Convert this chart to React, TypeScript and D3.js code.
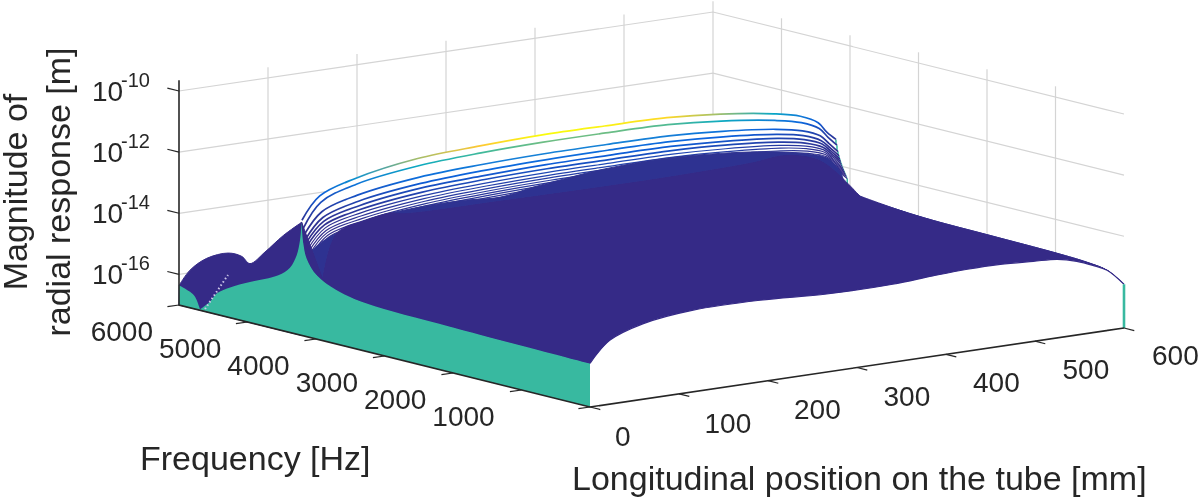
import React from 'react';
import * as d3 from 'd3';

// tick values
const xTicks = [0, 100, 200, 300, 400, 500, 600];
const freqTicks = [6000, 5000, 4000, 3000, 2000, 1000, 0];
const zTicks = [-10, -12, -14, -16];
const freqTickLabels = ['6000', '5000', '4000', '3000', '2000', '1000'];
const xTickLabels = ['0', '100', '200', '300', '400', '500', '600'];

// resolved response curves near the resonance, log10 magnitude
const stackX = [0, 20, 60, 130, 200, 270, 340, 410, 470, 530, 560, 580, 590, 600];
const stackFreq = [4205, 4190, 4175, 4160, 4148, 4136, 4124, 4112, 4100, 4088, 4076, 4064, 4052, 4040];
const stackZ = [
  [-13.23, -12.52, -12.12, -11.77, -11.66, -11.6, -11.61, -11.64, -11.78, -12.03, -12.24, -12.54, -12.9, -13.17],
  [-13.5, -12.72, -12.3, -12.0, -11.88, -11.83, -11.83, -11.86, -12.0, -12.24, -12.44, -12.72, -13.05, -13.35],
  [-13.7, -13.02, -12.65, -12.36, -12.25, -12.2, -12.2, -12.22, -12.33, -12.52, -12.7, -12.95, -13.25, -13.55],
  [-13.85, -13.2, -12.84, -12.56, -12.44, -12.39, -12.38, -12.4, -12.5, -12.68, -12.85, -13.1, -13.38, -13.68],
  [-13.95, -13.32, -12.98, -12.7, -12.6, -12.54, -12.54, -12.55, -12.64, -12.8, -12.97, -13.2, -13.48, -13.78],
  [-14.05, -13.43, -13.1, -12.83, -12.72, -12.67, -12.67, -12.68, -12.76, -12.92, -13.08, -13.3, -13.57, -13.86],
  [-14.14, -13.52, -13.2, -12.94, -12.83, -12.78, -12.78, -12.79, -12.87, -13.02, -13.17, -13.38, -13.65, -13.93],
  [-14.22, -13.6, -13.29, -13.03, -12.92, -12.87, -12.87, -12.88, -12.96, -13.1, -13.25, -13.45, -13.72, -14.0],
  [-14.3, -13.67, -13.37, -13.11, -13.0, -12.95, -12.95, -12.96, -13.04, -13.18, -13.32, -13.52, -13.78, -14.06],
  [-14.37, -13.74, -13.44, -13.18, -13.07, -13.02, -13.02, -13.03, -13.11, -13.25, -13.39, -13.58, -13.84, -14.12],
  [-14.44, -13.8, -13.5, -13.24, -13.13, -13.08, -13.08, -13.09, -13.17, -13.31, -13.45, -13.64, -13.9, -14.18],
  [-14.5, -13.86, -13.56, -13.3, -13.19, -13.14, -13.14, -13.15, -13.23, -13.37, -13.51, -13.7, -13.96, -14.24],
  [-14.56, -13.92, -13.62, -13.36, -13.25, -13.2, -13.2, -13.21, -13.29, -13.43, -13.57, -13.76, -14.02, -14.3],
  [-14.62, -13.98, -13.68, -13.42, -13.31, -13.26, -13.26, -13.27, -13.35, -13.49, -13.63, -13.82, -14.08, -14.36],
];

// upper edge of the solid mass of curves
const bodyFreq = 4130;
const bodyX = [0, 6, 20, 34, 51, 67, 94, 140, 180, 217, 254, 292, 329, 404, 498, 554, 584, 600];
const bodyZ = [-14.47, -14.19, -13.92, -13.75, -13.6, -13.47, -13.36, -13.29, -13.3, -13.37, -13.2, -13.07, -12.96, -12.9, -13.1, -13.38, -13.67, -14.2];

// darker part of the mass
const deepFreq = 3900;
const deepX = [0, 16, 49, 76, 90, 200, 311, 387, 480, 521, 560, 600];
const deepZ = [-15.0, -13.55, -13.27, -13.15, -13.24, -13.3, -13.33, -13.33, -13.27, -13.19, -13.55, -14.75];

// frontmost curve (lowest frequency)
const frontX = [0, 22.5, 60, 116, 191, 266, 340, 385, 424, 461, 498, 525, 547, 565, 581, 600];
const frontZ = [-15.57, -14.91, -14.53, -14.33, -14.33, -14.45, -14.45, -14.37, -14.32, -14.32, -14.38, -14.43, -14.59, -14.8, -15.03, -15.57];

// profile at x = 600 mm
const endFreq = [4117, 4044, 3854, 3270, 2788, 1971, 978, 540, 248, 15];
const endZ = [-14.3, -14.64, -14.83, -14.97, -15.03, -15.06, -15.1, -15.15, -15.25, -15.58];

// profile at x = 0 mm, split at the notch and at the peak
const startFreqA = [6000, 5839, 5766, 5693];
const startZA = [-16.35, -16.48, -16.6, -16.97];
const startFreqB = [5693, 5547, 5450, 5255, 4964, 4550, 4380, 4282, 4234, 4210];
const startZB = [-16.97, -16.64, -16.32, -16.01, -15.67, -15.22, -14.88, -14.42, -13.91, -13.3];
const startFreqC = [4210, 4185, 4136, 3990, 3698, 3260, 2044, 0];
const startZC = [-13.3, -13.98, -14.45, -14.91, -15.24, -15.43, -15.51, -15.58];

// silhouette of the curves behind the resonance
const humpFreq = [5996, 5839, 5596, 5280, 5085, 4964, 4745, 4477, 4210];
const humpZ = [-16.35, -15.77, -15.25, -14.9, -14.9, -15.07, -14.57, -13.88, -13.3];

const streakFreq = [5620, 5285];
const streakZ = [-16.92, -15.62];

const parula = d3
  .scaleLinear<string>()
  .domain([0, 0.125, 0.25, 0.375, 0.5, 0.625, 0.75, 0.875, 1])
  .range(['#352a87', '#0a62de', '#1481d6', '#06a7c6', '#2eb7a4', '#87bf77', '#d1bb59', '#fec832', '#f9fb0e'])
  .clamp(true);

const TEAL = '#38b9a0';
const NAVY = '#352a87';
const INK = '#262626';
const GRID = '#d4d4d4';
const FONT = '"Liberation Sans", Arial, sans-serif';

const zFloor = -17;
const zTop = -9.65;

// isometric-ish axes: one linear scale per screen offset
const xPx = d3.scaleLinear().domain([0, 600]).range([0, 534]);
const xPy = d3.scaleLinear().domain([0, 600]).range([0, -79]);
const fPx = d3.scaleLinear().domain([0, 6000]).range([0, -411]);
const fPy = d3.scaleLinear().domain([0, 6000]).range([0, -102]);
const zPy = d3.scaleLinear().domain([zFloor, -10]).range([0, -214]);

const project = (x: number, f: number, z: number): [number, number] => [
  590 + xPx(x) + fPx(f),
  407 + xPy(x) + fPy(f) + zPy(z),
];

const smooth = d3.line().curve(d3.curveCatmullRom.alpha(0.5));
const straight = d3.line();

// several smooth pieces into one outline
const joined = (sections: [number, number][][]) =>
  sections.map((s, i) => (i === 0 ? smooth(s)! : 'L' + smooth(s)!.slice(1))).join('') + 'Z';

const rowPts = (xs: number[], zs: number[], f: number) => xs.map((x, i) => project(x, f, zs[i]));
const profilePts = (fs: number[], zs: number[], x: number) => fs.map((f, i) => project(x, f, zs[i]));
const rev = (p: [number, number][]) => [...p].reverse();

const wallX = [100, 200, 300, 400, 500];
const wallF = [1000, 2000, 3000, 4000, 5000];

const Grid = () => (
  <g stroke={GRID} strokeWidth={1.2} fill="none">
    {wallX.map((x) => (
      <path key={x} d={straight([project(x, 6000, zFloor), project(x, 6000, zTop)])!} />
    ))}
    {wallF.map((f) => (
      <path key={f} d={straight([project(600, f, zFloor), project(600, f, zTop)])!} />
    ))}
    <path d={straight([project(600, 6000, zFloor), project(600, 6000, zTop)])!} />
    {zTicks.map((z) => (
      <path key={z} d={straight([project(0, 6000, z), project(600, 6000, z), project(600, 0, z)])!} />
    ))}
  </g>
);

const Curves = () => (
  <g>
    <defs>
      {stackZ.map((zs, i) => {
        const pts = rowPts(stackX, zs, stackFreq[i]);
        const x0 = pts[0][0];
        const x1 = pts[pts.length - 1][0];
        return (
          <linearGradient key={i} id={`row${i}`} gradientUnits="userSpaceOnUse" x1={x0} x2={x1} y1={0} y2={0}>
            {pts.map((p, j) => (
              <stop key={j} offset={(p[0] - x0) / (x1 - x0)} stopColor={parula(Math.pow(10, zs[j] + 11.6))} />
            ))}
          </linearGradient>
        );
      })}
    </defs>
    {stackZ.map((zs, i) => {
      const f = stackFreq[i];
      const pts = rowPts(stackX, zs, f);
      const last = pts[pts.length - 1];
      const outline = smooth(pts)!;
      const fill = outline + 'L' + project(600, f, zFloor).join(',') + 'L' + project(0, f, zFloor).join(',') + 'Z';
      return (
        <g key={i}>
          <path d={fill} fill="#fff" />
          <path d={straight([last, project(600, f, zFloor)])!} stroke={TEAL} strokeWidth={1.5} />
          <path d={outline} fill="none" stroke={`url(#row${i})`} strokeWidth={i < 6 ? 1.7 : 1.2} />
        </g>
      );
    })}
  </g>
);

const Mass = () => {
  const front = rowPts(frontX, frontZ, 0);
  const end = profilePts(endFreq, endZ, 600);
  const startC = profilePts(startFreqC, startZC, 0);
  const body = joined([rowPts(bodyX, bodyZ, bodyFreq), end, rev(front), rev(startC)]);
  const deep = joined([rowPts(deepX, deepZ, deepFreq), end.slice(2), rev(front), rev(startC)]);
  return (
    <g>
      <path d={body} fill="#2f3391" stroke="#2f3391" strokeWidth={1} />
      <path d={deep} fill={NAVY} stroke={NAVY} strokeWidth={1} />
    </g>
  );
};

const Hump = () => {
  const top = profilePts(humpFreq, humpZ, 0);
  const d = smooth(top)! + 'L' + project(0, 4210, zFloor).join(',') + 'L' + project(0, 6000, zFloor).join(',') + 'Z';
  return <path d={d} fill={NAVY} stroke={NAVY} strokeWidth={1} />;
};

const Curtains = () => {
  const floor: [number, number][] = [project(0, 0, zFloor), project(0, 6000, zFloor)];
  const teal = joined([
    profilePts(startFreqA, startZA, 0),
    profilePts(startFreqB, startZB, 0),
    profilePts(startFreqC, startZC, 0),
    floor,
  ]);
  const front = rowPts(frontX, frontZ, 0);
  const white = smooth(front)! + 'L' + project(600, 0, zFloor).join(',') + 'L' + project(0, 0, zFloor).join(',') + 'Z';
  return (
    <g>
      <path d={teal} fill={TEAL} />
      <path d={white} fill="#fff" />
      <path d={smooth(front)!} fill="none" stroke={NAVY} strokeWidth={1.2} />
      <path
        d={straight([project(600, 0, frontZ[frontZ.length - 1]), project(600, 0, zFloor)])!}
        stroke={TEAL}
        strokeWidth={2.6}
      />
      <path
        d={straight(profilePts(streakFreq, streakZ, 0))!}
        stroke="#cfc9ea"
        strokeWidth={2}
        strokeDasharray="1.5 2.5"
      />
    </g>
  );
};

const Axes = () => (
  <g stroke={INK} strokeWidth={1.6} fill="none">
    <path d={straight([project(0, 6000, zTop), project(0, 6000, zFloor), project(0, 0, zFloor), project(600, 0, zFloor)])!} />
    {xTicks.map((x) => (
      <path key={x} d={straight([project(x, 0, zFloor), project(x, -150, zFloor)])!} strokeWidth={1.2} />
    ))}
    {freqTicks.map((f) => (
      <path key={f} d={straight([project(0, f, zFloor), project(-13, f, zFloor)])!} strokeWidth={1.2} />
    ))}
    {zTicks.map((z) => (
      <path key={z} d={straight([project(0, 6000, z), project(0, 6170, z)])!} strokeWidth={1.2} />
    ))}
  </g>
);

const Labels = () => {
  const xLabelX = d3.scaleLinear().domain([0, 600]).range([615, 1152]);
  const xLabelY = d3.scaleLinear().domain([0, 600]).range([446, 365]);
  const fLabelX = d3.scaleLinear().domain([0, 6000]).range([563, 153]);
  const fLabelY = d3.scaleLinear().domain([0, 6000]).range([443, 341]);
  return (
    <g fontFamily={FONT} fill={INK} fontSize={28}>
      {xTicks.map((x, i) => (
        <text key={x} x={xLabelX(x)} y={xLabelY(x)}>
          {xTickLabels[i]}
        </text>
      ))}
      {freqTickLabels.map((label, i) => (
        <text key={label} x={fLabelX(freqTicks[i])} y={fLabelY(freqTicks[i])} textAnchor="end">
          {label}
        </text>
      ))}
      {zTicks.map((z) => {
        const [, y] = project(0, 6000, z);
        return (
          <g key={z}>
            <text x={92} y={y + 10}>10</text>
            <text x={121} y={y - 4} fontSize={20}>{z}</text>
          </g>
        );
      })}
      <g fontSize={34}>
        <text x={140} y={470}>Frequency [Hz]</text>
        <text x={572} y={490}>Longitudinal position on the tube [mm]</text>
        <text transform="translate(27,192) rotate(-90)" textAnchor="middle">Magnitude of</text>
        <text transform="translate(70,192) rotate(-90)" textAnchor="middle">radial response [m]</text>
      </g>
    </g>
  );
};

const App = () => (
  <svg width={1200} height={499} viewBox="0 0 1200 499" style={{ position: 'absolute', left: 0, top: 0, background: '#fff' }}>
    <defs>
      <filter id="soft" x="0" y="0" width="100%" height="100%">
        <feGaussianBlur stdDeviation={0.45} />
      </filter>
    </defs>
    <g filter="url(#soft)">
      <Grid />
      <Hump />
      <Curves />
      <Mass />
      <Curtains />
      <Axes />
      <Labels />
    </g>
  </svg>
);

export default App;
